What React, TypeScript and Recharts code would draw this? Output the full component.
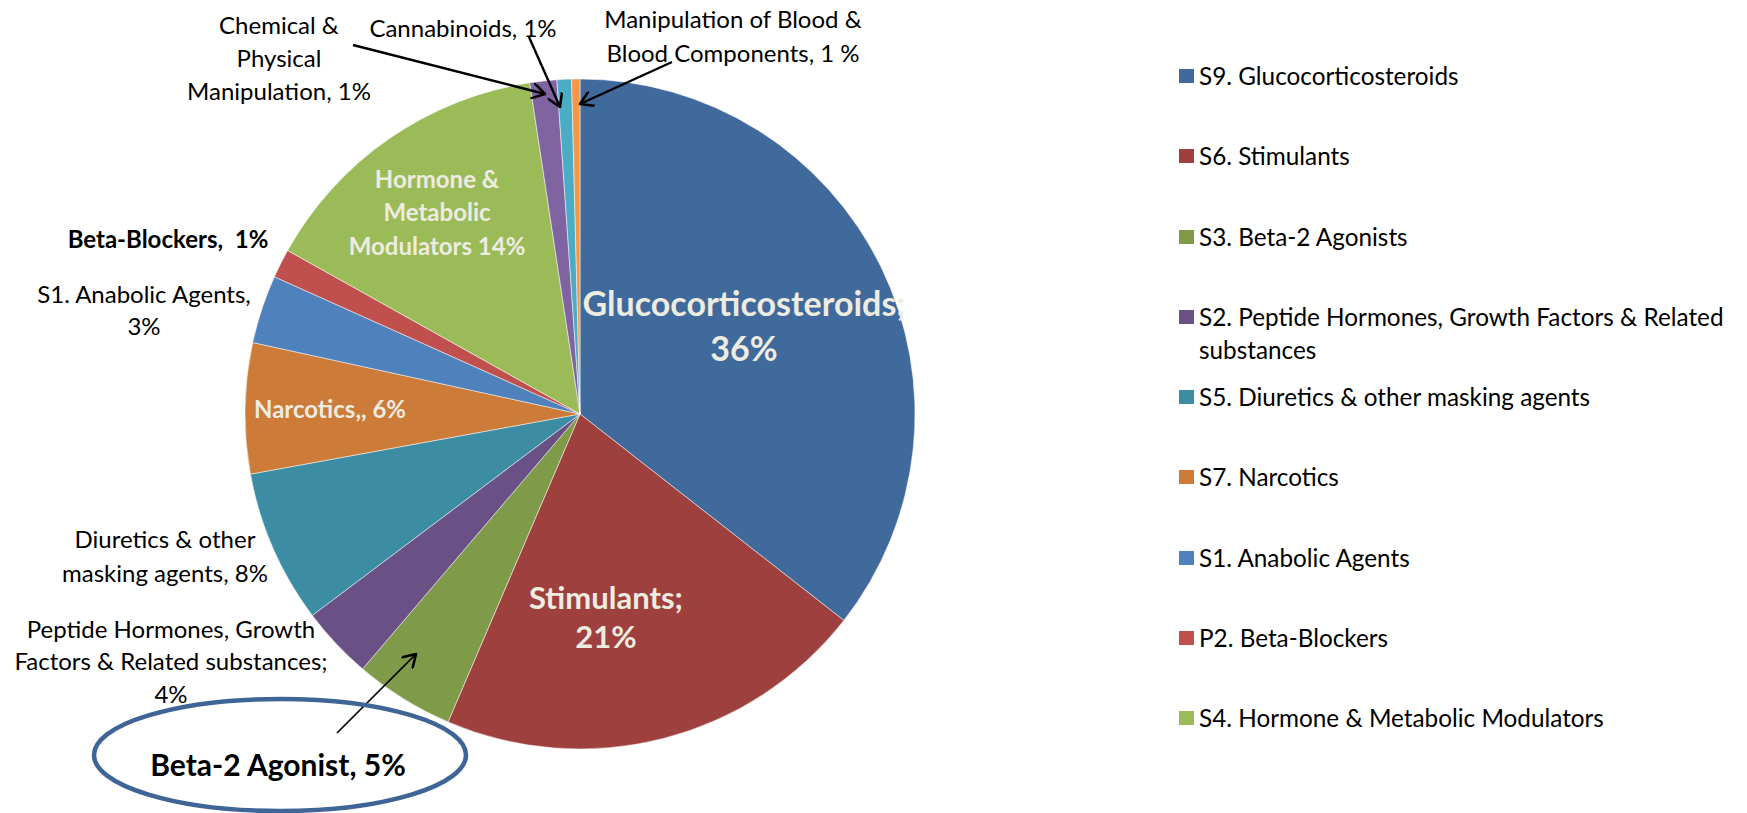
import React from "react";
import { PieChart, Pie, Cell, Legend } from "recharts";

// slice order: clockwise from 12 o'clock
const CATEGORIES = [
  "S9. Glucocorticosteroids",
  "S6. Stimulants",
  "S3. Beta-2 Agonists",
  "S2. Peptide Hormones, Growth Factors & Related substances",
  "S5. Diuretics & other masking agents",
  "S7. Narcotics",
  "S1. Anabolic Agents",
  "P2. Beta-Blockers",
  "S4. Hormone & Metabolic Modulators",
  "M2. Chemical & Physical Manipulation",
  "S8. Cannabinoids",
  "M1. Manipulation of Blood & Blood Components",
];
const SHARES = [35.6, 20.9, 4.8, 3.5, 7.4, 6.3, 3.3, 1.4, 14.5, 1.3, 0.7, 0.4];
const COLORS = [
  "#40699C", "#9E413E", "#7F9A48", "#695185", "#3C8DA3", "#CC7B38",
  "#4F81BD", "#C0504D", "#9BBB59", "#8064A2", "#4BACC6", "#F79646",
];
const LEGEND_LINES = [
  ["S9. Glucocorticosteroids"],
  ["S6. Stimulants"],
  ["S3. Beta-2 Agonists"],
  ["S2. Peptide Hormones, Growth Factors & Related", "substances"],
  ["S5. Diuretics & other masking agents"],
  ["S7. Narcotics"],
  ["S1. Anabolic Agents"],
  ["P2. Beta-Blockers"],
  ["S4. Hormone & Metabolic Modulators"],
];
const LABEL_LINES = [
  ["Glucocorticosteroids;", "36%"],
  ["Stimulants;", "21%"],
  ["Beta-2 Agonist, 5%"],
  ["Peptide Hormones, Growth", "Factors & Related substances;", "4%"],
  ["Diuretics & other", "masking agents, 8%"],
  ["Narcotics,, 6%"],
  ["S1. Anabolic Agents,", "3%"],
  ["Beta-Blockers,  1%"],
  ["Hormone &", "Metabolic", "Modulators 14%"],
  ["Chemical &", "Physical", "Manipulation, 1%"],
  ["Cannabinoids, 1%"],
  ["Manipulation of Blood &", "Blood Components, 1 %"],
];

const data = CATEGORIES.map((name, i) => ({ name, value: SHARES[i] }));

const FONT = "Lato, 'Open Sans', sans-serif";
const LIGHT = "#EEECE1";

// where each data label sits (Excel labels were dragged by hand)
const LABEL_LAYOUT = [
  { x: 744, y: 302, gap: 45, size: 34, bold: true, fill: LIGHT },
  { x: 606, y: 597, gap: 39, size: 31, bold: true, fill: LIGHT },
  { x: 278, y: 764, gap: 0, size: 30, bold: true, fill: "#000" },
  { x: 171, y: 628, gap: 32.5, size: 24, bold: false, fill: "#000" },
  { x: 165, y: 538, gap: 34, size: 24, bold: false, fill: "#000" },
  { x: 330, y: 408, gap: 0, size: 24, bold: true, fill: LIGHT },
  { x: 144, y: 293, gap: 32, size: 24, bold: false, fill: "#000" },
  { x: 168, y: 238, gap: 0, size: 24, bold: true, fill: "#000" },
  { x: 437, y: 178, gap: 33.5, size: 24, bold: true, fill: LIGHT },
  { x: 279, y: 24, gap: 33, size: 24, bold: false, fill: "#000" },
  { x: 463, y: 27, gap: 0, size: 24, bold: false, fill: "#000" },
  { x: 733, y: 18, gap: 34, size: 24, bold: false, fill: "#000" },
];

const renderLabel = (props: any) => {
  const i = props.index;
  const l = LABEL_LAYOUT[i];
  return (
    <g key={`lbl-${i}`}>
      {LABEL_LINES[i].map((line, j) => (
        <text
          key={j}
          x={l.x}
          y={l.y + j * l.gap}
          textAnchor="middle"
          dominantBaseline="central"
          fill={l.fill}
          fontFamily={FONT}
          fontSize={l.size}
          fontWeight={l.bold ? 700 : 400}
          style={{ whiteSpace: "pre" }}
        >
          {line}
        </text>
      ))}
    </g>
  );
};

const renderLegend = () => (
  <div style={{ position: "relative", width: 570, height: 813, fontFamily: FONT, fontSize: 24.3, color: "#000" }}>
    {LEGEND_LINES.map((lines, i) => {
      const top = 76 + i * 80.25;
      return (
        <div key={i}>
          <div
            style={{
              position: "absolute",
              left: 0,
              top: top - 7,
              width: 15,
              height: 14,
              background: COLORS[i],
            }}
          />
          {lines.map((t, j) => (
            <div
              key={j}
              style={{
                position: "absolute",
                left: 20,
                top: top + j * 33 - 16,
                height: 32,
                lineHeight: "32px",
                whiteSpace: "nowrap",
              }}
            >
              {t}
            </div>
          ))}
        </div>
      );
    })}
  </div>
);

const ARROWS = [
  { x1: 353, y1: 45, x2: 545, y2: 94, w: 2.4 },
  { x1: 529, y1: 37, x2: 560, y2: 107, w: 2.4 },
  { x1: 672, y1: 62, x2: 580, y2: 104, w: 2.4 },
  { x1: 337, y1: 733, x2: 416, y2: 654, w: 1.7 },
];

export default function App() {
  return (
    <div style={{ position: "absolute", left: 0, top: 0, width: 1747, height: 813, background: "#fff" }}>
      <PieChart width={1747} height={813} margin={{ top: 0, right: 0, bottom: 0, left: 0 }}>
        <Pie
          data={data}
          dataKey="value"
          nameKey="name"
          cx={580}
          cy={414}
          outerRadius={335}
          startAngle={90}
          endAngle={-270}
          stroke="#ffffff"
          strokeWidth={0.5}
          labelLine={false}
          label={renderLabel}
          isAnimationActive={false}
        >
          {data.map((entry, index) => (
            <Cell key={`cell-${index}`} fill={COLORS[index]} />
          ))}
        </Pie>
        <Legend
          content={renderLegend}
          wrapperStyle={{ position: "absolute", left: 1179, top: 0, width: 570, height: 813 }}
        />
      </PieChart>
      <svg
        width={1747}
        height={813}
        style={{ position: "absolute", left: 0, top: 0, pointerEvents: "none" }}
      >
        <defs>
          <marker id="open-arrow" markerWidth="16" markerHeight="16" refX="10" refY="6" orient="auto" markerUnits="userSpaceOnUse" viewBox="0 0 12 12">
            <polyline points="1,0.5 10,6 1,11.5" fill="none" stroke="#000" strokeWidth={1.9} strokeLinecap="round" strokeLinejoin="round" />
          </marker>
        </defs>
        {ARROWS.map((a, i) => (
          <line
            key={i}
            x1={a.x1}
            y1={a.y1}
            x2={a.x2}
            y2={a.y2}
            stroke="#000"
            strokeWidth={a.w}
            markerEnd="url(#open-arrow)"
          />
        ))}
        <ellipse cx={280} cy={755} rx={186} ry={56} fill="none" stroke="#3F6496" strokeWidth={4.5} />
      </svg>
    </div>
  );
}
